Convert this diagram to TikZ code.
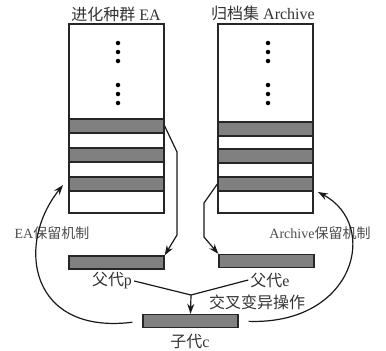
\documentclass[tikz,border=0pt]{standalone}
\usepackage{fontspec}
\setmainfont{Liberation Serif}
\newfontfamily\cjk{Noto Sans CJK SC}
\usetikzlibrary{arrows.meta}
\begin{document}
\begin{tikzpicture}[x=1pt,y=-1pt,
  colbox/.style={draw=black!85,line width=1.3pt,fill=white,minimum width=95pt,minimum height=189pt,inner sep=0pt},
  graybar/.style={draw=black!85,line width=1.3pt,fill=black!50,minimum width=95pt,minimum height=14pt,inner sep=0pt},
  lbl/.style={text=black!80,inner sep=0pt,font=\fontsize{16}{18}\selectfont},
  sidelbl/.style={text=black!70,inner sep=0pt,font=\fontsize{14}{16}\selectfont},
  conn/.style={draw=black!90,line width=1.2pt},
  arr/.style={conn,-{Stealth[length=10pt,width=7pt]}},
  dot/.style={circle,fill=black,inner sep=0pt,minimum size=4.5pt}]
\useasboundingbox (0,0) rectangle (386,351);
% columns
\node[colbox] (EA) at (116.5,118.5) {};
\node[colbox] (AR) at (265.5,118.5) {};
\node[graybar] (EA1) at (116.5,126) {};
\node[graybar] (EA2) at (116.5,155) {};
\node[graybar] (EA3) at (116.5,184) {};
\node[graybar] (AR1) at (265.5,129) {};
\node[graybar] (AR2) at (265.5,156) {};
\node[graybar] (AR3) at (265.5,184) {};
% dots
\foreach \y [count=\i] in {43,52,61,85,94,103}{
  \node[dot] (ld\i) at (118,\y) {};
  \node[dot] (rd\i) at (268,\y) {};
}
% titles
\node[lbl] (t1) at (116,14) {{\cjk 进化种群}\ EA};
\node[lbl] (t2) at (263,13) {{\cjk 归档集}\ Archive};
% parents and child
\node[graybar,minimum height=13pt] (P) at (116.5,262.5) {};
\node[graybar,minimum height=13pt] (E) at (266.5,261) {};
\node[graybar,minimum height=13pt] (C) at (190.5,321) {};
\node[lbl] (Pt) at (112,281) {{\cjk 父代}p};
\node[lbl] (Et) at (270,280) {{\cjk 父代}e};
\node[lbl] (Op) at (257,302) {\cjk 交叉变异操作};
\node[lbl] (Ct) at (190,342) {{\cjk 子代}c};
\node[sidelbl] (Lm) at (52,233) {EA{\cjk 保留机制}};
\node[sidelbl] (Rm) at (320,233) {Archive{\cjk 保留机制}};
% selection arrows
\draw[arr] (EA1.east) -- (177,152) -- (177,235) -- (P.north east);
\draw[arr] (AR3.west) -- (204,203) -- (204,237) -- (E.north west);
% crossover
\coordinate (J) at (191,295);
\draw[conn] (Pt.east) ++(2,0) -- (J);
\draw[conn] (Et.west) ++(-2,0) -- (J);
\draw[arr] (J) -- (C.north);
% retention curves
\coordinate (Lt) at (63,185);
\coordinate (Rt) at (318,192);
\draw[arr,shorten <=10pt] (C.west) .. controls (30,335) and (15,245) .. (Lt);
\draw[arr,shorten <=10pt] (C.east) .. controls (355,325) and (380,225) .. (Rt);
\end{tikzpicture}
\end{document}
